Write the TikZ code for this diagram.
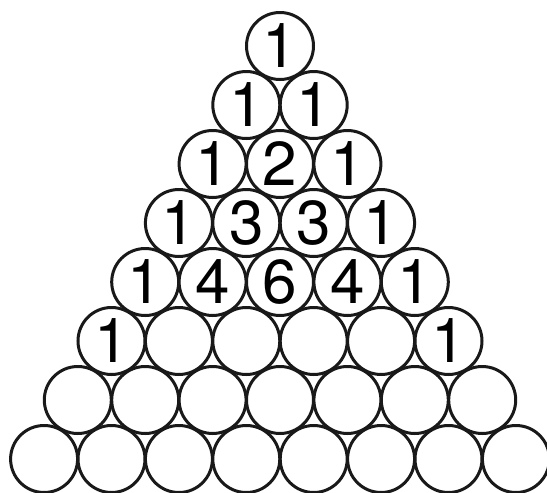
\documentclass[tikz,border=0pt]{standalone}
\usepackage{fontspec}
\setmainfont{TeX Gyre Heros}
\begin{document}
\begin{tikzpicture}[x=1pt,y=-1pt,
  ball/.style={circle,draw=black!90,line width=3pt,minimum size=67pt,inner sep=0pt,
    font=\fontsize{62}{62}\selectfont}]
\useasboundingbox (0,0) rectangle (547,493);
\def\sx{67.4}
\def\sy{59}
% rows of values ('' = empty)
\foreach \r/\vals in {0/{1},1/{1,1},2/{1,2,1},3/{1,3,3,1},4/{1,4,6,4,1},
    5/{1,,,,,1},6/{,,,,,,},7/{,,,,,,,}}{
  \foreach \v [count=\k from 0] in \vals {
    \node[ball] (c-\r-\k) at ({280+(\k-\r/2)*\sx},{46+\r*\sy}) {\raisebox{-1pt}{\v}};
  }
}
\end{tikzpicture}
\end{document}
